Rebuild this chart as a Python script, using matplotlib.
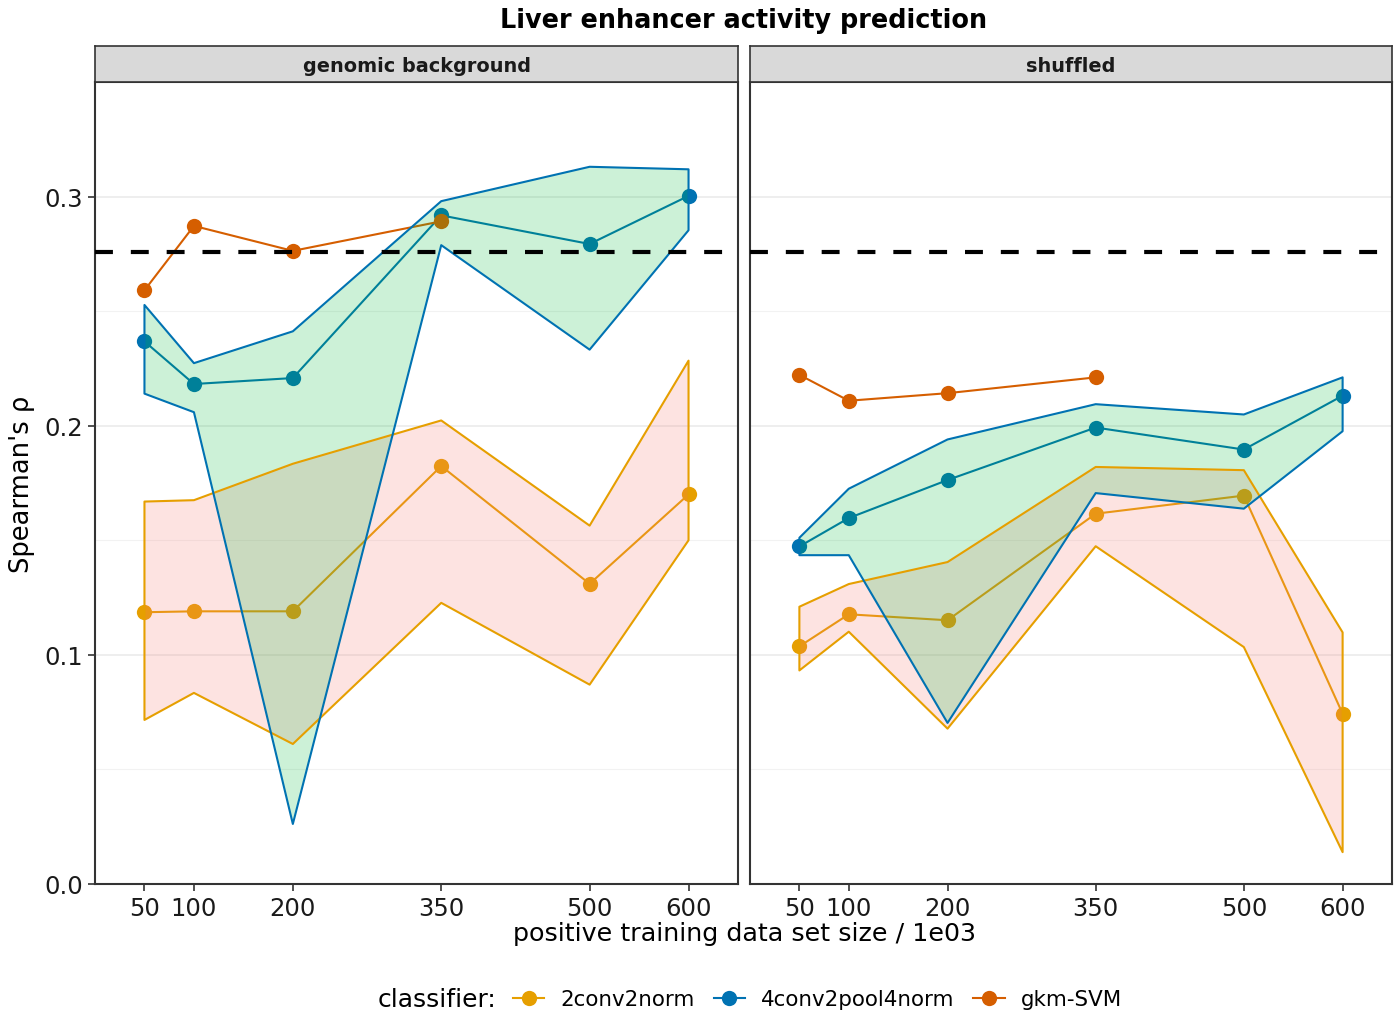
import numpy as np
import matplotlib.pyplot as plt
from matplotlib.lines import Line2D

# training set sizes (x 1e03)
sizes = [50, 100, 200, 350, 500, 600]
gkm_sizes = [50, 100, 200, 350]

panels = ["genomic background", "shuffled"]
classifiers = ["2conv2norm", "4conv2pool4norm", "gkm-SVM"]

# genomic background
gb_2conv_mean = [0.1186, 0.1190, 0.1190, 0.1824, 0.1310, 0.1700]
gb_2conv_hi = [0.1669, 0.1675, 0.1834, 0.2023, 0.1564, 0.2284]
gb_2conv_lo = [0.0716, 0.0834, 0.0611, 0.1227, 0.0870, 0.1500]
gb_4conv_mean = [0.2368, 0.2182, 0.2208, 0.2918, 0.2793, 0.3003]
gb_4conv_hi = [0.2527, 0.2273, 0.2412, 0.2980, 0.3130, 0.3119]
gb_4conv_lo = [0.2140, 0.2059, 0.0262, 0.2788, 0.2332, 0.2853]
gb_gkm = [0.2591, 0.2872, 0.2763, 0.2892]

# shuffled
sh_2conv_mean = [0.1037, 0.1177, 0.1151, 0.1616, 0.1695, 0.0743]
sh_2conv_hi = [0.1210, 0.1309, 0.1405, 0.1820, 0.1806, 0.1098]
sh_2conv_lo = [0.0932, 0.1101, 0.0678, 0.1474, 0.1034, 0.0139]
sh_4conv_mean = [0.1473, 0.1597, 0.1763, 0.1992, 0.1896, 0.2131]
sh_4conv_hi = [0.1511, 0.1725, 0.1940, 0.2094, 0.2049, 0.2211]
sh_4conv_lo = [0.1435, 0.1435, 0.0703, 0.1706, 0.1638, 0.1976]
sh_gkm = [0.2222, 0.2109, 0.2142, 0.2211]

baseline = 0.276

line_cols = {"2conv2norm": "#E69F00", "4conv2pool4norm": "#0072B2", "gkm-SVM": "#D55E00"}
fill_cols = {"2conv2norm": "#F8766D", "4conv2pool4norm": "#00BA38"}

data = {
    "genomic background": {
        "2conv2norm": (gb_2conv_mean, gb_2conv_lo, gb_2conv_hi),
        "4conv2pool4norm": (gb_4conv_mean, gb_4conv_lo, gb_4conv_hi),
        "gkm-SVM": gb_gkm,
    },
    "shuffled": {
        "2conv2norm": (sh_2conv_mean, sh_2conv_lo, sh_2conv_hi),
        "4conv2pool4norm": (sh_4conv_mean, sh_4conv_lo, sh_4conv_hi),
        "gkm-SVM": sh_gkm,
    },
}

W, H = 1396, 1012
fig = plt.figure(figsize=(W / 100, H / 100), dpi=100)

def box(x0, y0, x1, y1):
    return [x0 / W, 1 - y1 / H, (x1 - x0) / W, (y1 - y0) / H]

panel_px = [(95, 738), (750, 1392)]
top, bottom, strip_top = 83, 885, 47

axes = []
for i, name in enumerate(panels):
    x0, x1 = panel_px[i]
    ax = fig.add_axes(box(x0, top, x1, bottom))
    axes.append(ax)
    d = data[name]

    # mean lines and points
    for cl in ["2conv2norm", "4conv2pool4norm"]:
        m = d[cl][0]
        ax.plot(sizes, m, color=line_cols[cl], lw=1.5, marker="o", ms=11,
                mec="none", zorder=3)
    ax.plot(gkm_sizes, d["gkm-SVM"], color=line_cols["gkm-SVM"], lw=1.5,
            marker="o", ms=11, mec="none", zorder=3)

    # ribbons drawn over the lines
    for cl in ["2conv2norm", "4conv2pool4norm"]:
        m, lo, hi = d[cl]
        ax.fill_between(sizes, lo, hi, facecolor=fill_cols[cl], alpha=0.2,
                        edgecolor="none", zorder=4)
        ax.fill_between(sizes, lo, hi, facecolor="none",
                        edgecolor=line_cols[cl], lw=1.5, zorder=5)

    ax.axhline(baseline, color="black", lw=3, ls=(0, (4.3, 4.3)), zorder=6)

    ax.set_xlim(0, 650)
    ax.set_ylim(0, 0.35)
    ax.set_xticks(sizes)
    ax.set_xticklabels([str(s) for s in sizes])
    ax.set_yticks([0.0, 0.1, 0.2, 0.3])
    ax.set_yticks([0.05, 0.15, 0.25], minor=True)
    ax.grid(True, axis="y", which="major", color="#EBEBEB", lw=1.2, zorder=0)
    ax.grid(True, axis="y", which="minor", color="#F2F2F2", lw=0.8, zorder=0)
    ax.set_axisbelow(True)
    ax.tick_params(axis="both", which="major", labelsize=17.5, length=5,
                   color="#333333", labelcolor="#1A1A1A", width=1.2)
    ax.tick_params(axis="y", which="minor", length=0)
    for sp in ax.spines.values():
        sp.set_color("#333333")
        sp.set_linewidth(1.5)
    if i == 1:
        ax.set_yticklabels([])
        ax.tick_params(axis="y", length=0)
    else:
        ax.set_yticklabels(["0.0", "0.1", "0.2", "0.3"])

    # facet strip
    sax = fig.add_axes(box(x0, strip_top, x1, top))
    sax.set_facecolor("#D9D9D9")
    sax.set_xticks([])
    sax.set_yticks([])
    for sp in sax.spines.values():
        sp.set_color("#333333")
        sp.set_linewidth(1.2)
    sax.text(0.5, 0.47, name, ha="center", va="center", fontsize=13.9,
             fontweight="bold", color="#1A1A1A", transform=sax.transAxes)

fig.text(744 / W, 1 - 21 / H, "Liver enhancer activity prediction",
         ha="center", va="center", fontsize=18.4, fontweight="bold")
fig.text(22 / W, 1 - 484 / H, "Spearman's ρ", rotation=90, ha="center",
         va="center", fontsize=18.5)
fig.text(744 / W, 1 - 934 / H, "positive training data set size / 1e03",
         ha="center", va="center", fontsize=18.3)

# legend along the bottom
fig.text(378 / W, 1 - 1000 / H, "classifier:", ha="left", va="center",
         fontsize=18)
handles = [Line2D([], [], color=line_cols[c], lw=1.5, marker="o", ms=11,
                  mec="none") for c in classifiers]
fig.legend(handles, classifiers, loc="center left",
           bbox_to_anchor=(513 / W, 1 - 1000 / H), ncol=3, frameon=False,
           fontsize=15.4, handlelength=1.45, handletextpad=0.75,
           columnspacing=0.9, borderaxespad=0, borderpad=0)

fig.savefig("out.png", dpi=100)
